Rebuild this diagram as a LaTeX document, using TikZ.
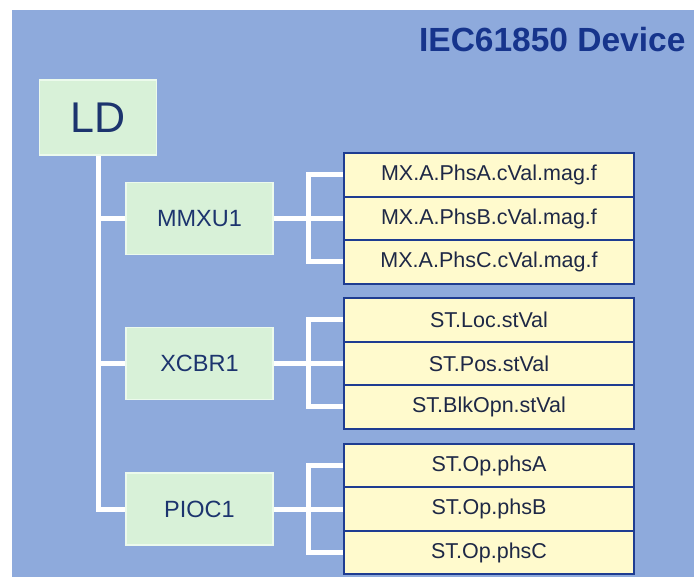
\documentclass[tikz,border=0pt]{standalone}
\usepackage{fontspec}
\setmainfont{Liberation Sans}
\definecolor{bgblue}{RGB}{142,170,220}
\definecolor{titleblue}{RGB}{22,52,140}
\definecolor{lnfill}{RGB}{216,241,216}
\definecolor{lnedge}{RGB}{236,250,236}
\definecolor{leaffill}{RGB}{255,250,205}
\definecolor{leafedge}{RGB}{30,60,145}
\definecolor{textblue}{RGB}{28,52,110}
\definecolor{leaftext}{RGB}{30,40,70}
\tikzset{
  lnbox/.style={draw=lnedge, line width=1.5pt, fill=lnfill, minimum width=147pt, minimum height=72pt, inner sep=0pt, text=textblue, font=\fontsize{23.5}{26}\selectfont},
  leafbox/.style={draw=leafedge, line width=2pt, fill=leaffill, minimum width=290pt, minimum height=43.6pt, inner sep=0pt, text=leaftext, font=\fontsize{21.5}{24}\selectfont},
  wire/.style={draw=white, line width=5pt}
}
\begin{document}
\begin{tikzpicture}[x=1pt,y=-1pt]
\useasboundingbox (0,0) rectangle (694,577);
\fill[white] (0,0) rectangle (694,577);
\fill[bgblue] (12,10) rectangle (694,577);
\node[anchor=east, text=titleblue, font=\fontsize{33.5}{38}\selectfont\bfseries] (title) at (689,40) {IEC61850 Device};
\node[lnbox, minimum width=117pt, minimum height=75pt, font=\fontsize{43}{48}\selectfont] (LD) at (98,117.5) {LD};
\node[lnbox] (MMXU1) at (199.5,218.5) {MMXU1};
\node[lnbox] (XCBR1) at (199.5,363.5) {XCBR1};
\node[lnbox] (PIOC1) at (199.5,509) {PIOC1};
% leaves
\node[leafbox] (m1) at (489,175) {MX.A.PhsA.cVal.mag.f};
\node[leafbox] (m2) at (489,218.5) {MX.A.PhsB.cVal.mag.f};
\node[leafbox] (m3) at (489,262) {MX.A.PhsC.cVal.mag.f};
\node[leafbox] (x1) at (489,320) {ST.Loc.stVal};
\node[leafbox] (x2) at (489,363.5) {ST.Pos.stVal};
\node[leafbox] (x3) at (489,407) {ST.BlkOpn.stVal};
\node[leafbox] (p1) at (489,465.5) {ST.Op.phsA};
\node[leafbox] (p2) at (489,509) {ST.Op.phsB};
\node[leafbox] (p3) at (489,552.5) {ST.Op.phsC};
% trunk
\draw[wire] (LD.south) |- (PIOC1.west);
\draw[wire] (LD.south |- MMXU1.west) -- (MMXU1.west);
\draw[wire] (LD.south |- XCBR1.west) -- (XCBR1.west);
% brackets
\draw[wire] (MMXU1.east) -- (m2.west);
\draw[wire] (m1.west) -- ++(-35,0) |- (m3.west);
\draw[wire] (XCBR1.east) -- (x2.west);
\draw[wire] (x1.west) -- ++(-35,0) |- (x3.west);
\draw[wire] (PIOC1.east) -- (p2.west);
\draw[wire] (p1.west) -- ++(-35,0) |- (p3.west);
\end{tikzpicture}
\end{document}
